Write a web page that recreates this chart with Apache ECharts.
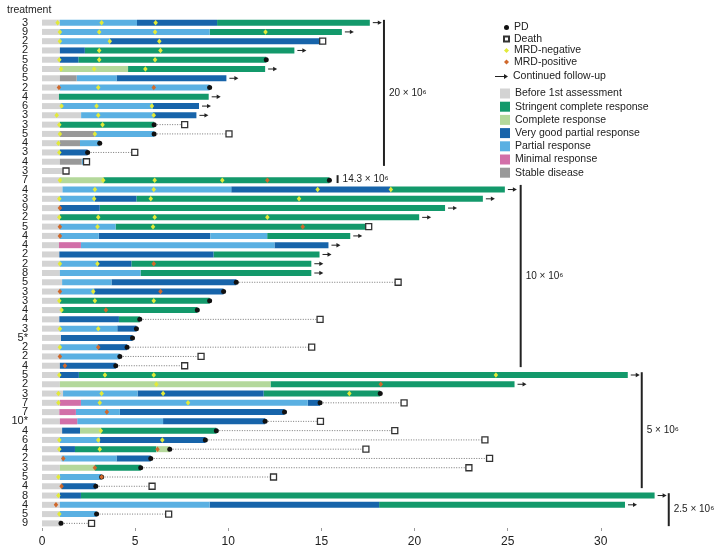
<!DOCTYPE html>
<html><head><meta charset="utf-8">
<script src="https://cdn.jsdelivr.net/npm/echarts@6/dist/echarts.min.js"></script>
<style>html,body{margin:0;padding:0;background:#fff}#c{width:715px;height:550px}</style>
</head><body><div id="c"></div>
<script>
// ---- data ----
const rowLabels = ['3','9','2','2','5','6','5','2','4','6','3','3','5','4','3','4','3','7','4','3','9','2','5','4','4','2','2','8','5','3','3','4','4','3','5*','2','2','4','5','2','3','7','7','10*','4','6','4','2','3','5','4','8','4','5','9'];

const statusCodes = ['B','S','C','V','P','M','D'];
const statusNames = ['Before 1st assessment','Stringent complete response','Complete response','Very good partial response','Partial response','Minimal response','Stable disease'];
const statusColors = ['#d3d3d3','#13996b','#b4d89b','#1764aa','#5ab0e2','#d26fa8','#999999'];

// each row: [status, end time]; each segment starts where the previous ended (first at 0)
const rowSegments = [
 [['B',0.96],['P',5.1],['V',9.4],['S',17.6]],
 [['B',0.96],['P',9.0],['S',16.1]],
 [['B',0.96],['P',3.64],['V',15.07]],
 [['B',0.96],['V',2.3],['S',13.55]],
 [['B',0.96],['V',1.95],['S',12.04]],
 [['B',0.96],['C',4.62],['S',11.98]],
 [['B',0.96],['D',1.86],['P',4.0],['V',9.9]],
 [['B',0.96],['P',9.0]],
 [['B',0.91],['S',8.95]],
 [['B',1.0],['P',5.96],['V',8.43]],
 [['B',2.1],['P',5.96],['V',8.29]],
 [['B',0.96],['S',6.02]],
 [['B',0.96],['D',2.84],['P',6.02]],
 [['B',0.96],['D',2.04],['P',3.1]],
 [['B',0.96],['V',2.45]],
 [['B',0.96],['D',2.13],['P',2.4]],
 [['B',1.25]],
 [['B',0.96],['C',3.29],['S',15.43]],
 [['B',1.1],['P',10.16],['V',18.7],['S',24.85]],
 [['B',0.96],['P',2.84],['V',5.07],['S',23.67]],
 [['B',0.96],['V',3.1],['S',21.64]],
 [['B',0.96],['S',20.25]],
 [['B',0.96],['P',3.95],['S',17.54]],
 [['B',0.96],['P',3.05],['V',9.04],['P',12.09],['S',16.55]],
 [['B',0.91],['M',2.09],['P',12.48],['V',15.38]],
 [['B',0.93],['V',9.21],['S',14.9]],
 [['B',0.96],['P',2.98],['V',4.8],['S',14.46]],
 [['B',0.96],['P',5.29],['S',14.46]],
 [['B',1.08],['P',3.73],['V',10.43]],
 [['B',0.96],['P',2.8],['V',9.75]],
 [['B',0.96],['S',9.0]],
 [['B',1.05],['S',8.34]],
 [['B',0.93],['V',4.13],['S',5.25]],
 [['B',0.96],['P',4.04],['V',5.07]],
 [['B',1.02],['V',4.86]],
 [['B',0.96],['P',2.98],['V',4.57]],
 [['B',0.96],['P',4.18]],
 [['B',0.96],['V',3.96]],
 [['B',0.96],['V',1.98],['S',31.45]],
 [['B',0.96],['C',12.27],['S',25.37]],
 [['B',1.13],['P',5.13],['V',11.9],['S',18.16]],
 [['B',0.96],['M',2.09],['P',14.27],['V',14.93]],
 [['B',0.93],['M',1.82],['P',4.18],['V',13.02]],
 [['B',0.96],['M',1.89],['P',6.5],['V',11.98]],
 [['B',1.08],['V',2.04],['C',3.16],['S',9.36]],
 [['B',0.96],['P',3.1],['V',8.77]],
 [['B',0.96],['V',1.77],['S',6.14],['C',6.86]],
 [['B',1.05],['P',4.0],['V',5.84]],
 [['B',0.96],['C',2.84],['S',5.3]],
 [['B',0.96],['P',3.2]],
 [['B',1.05],['V',2.89]],
 [['B',0.96],['V',2.09],['S',32.89]],
 [['B',0.96],['P',9.0],['V',18.1],['S',31.3]],
 [['B',0.96],['P',2.93]],
 [['B',1.02]]
];

const pdTimes = [null,null,null,null,12.04,null,null,9.0,null,null,null,6.02,6.02,3.1,2.45,null,null,15.43,
 null,null,null,null,null,null,null,null,null,null,10.43,9.75,9.0,8.34,5.25,5.07,4.86,4.57,4.18,3.96,
 null,null,18.16,14.93,13.02,11.98,9.36,8.77,6.86,5.84,5.3,3.2,2.89,null,null,2.93,1.02];

const deathTimes = [null,null,15.07,null,null,null,null,null,null,null,null,7.66,10.04,null,4.98,2.39,1.29,null,
 null,null,null,null,17.54,null,null,null,null,null,19.12,null,null,null,14.93,null,null,14.48,8.54,7.66,
 null,null,null,19.44,null,14.95,18.94,23.78,17.39,24.03,22.92,12.43,5.91,null,null,6.8,2.66];

const ongoingRows = [0,1,3,5,6,8,9,10,18,19,20,21,23,24,25,26,27,38,39,51,52];

const mrdNegative = [[0.84,3.2,6.1],[0.96,3.07,6.07,12.0],[0.96,3.64,6.3],[3.07,6.36],[0.93,3.07,6.07],[1.02,2.8,5.55],[],[3.02],[],[1.05,2.93,5.9],[0.79,3.02,6.0],[0.93,3.25],[0.96,2.84],[0.88],[0.93],[],[],
 [0.96,3.29,6.05,9.68],[2.84,6.0,14.8,18.73],[0.93,2.8,5.84,13.8],[],[0.93,3.02,6.05,12.1],[2.98,5.96],[],[],[],[0.96,2.98],[],[],[2.75],[0.93,2.84,6.0],[1.05],[],[0.96,3.02],[],[0.96],[],[],
 [0.93,3.38,6.0,24.37],[6.14],[0.88,3.2,6.5,16.5],[0.88,3.1,7.84],[],[],[3.16],[0.93,3.02,6.46],[0.93,3.1],[],[],[0.88],[],[0.88],[],[0.93],[]];

const mrdPositive = [[],[],[],[],[],[],[],[0.91,6.0],[],[],[],[],[],[],[],[],[],
 [12.1],[],[],[0.96],[],[0.96,14.0],[0.96],[],[],[6.0],[],[],[0.96,6.36],[],[3.43],[],[],[],[3.02],[0.96],[1.23],
 [],[18.19],[],[],[3.48],[],[],[],[6.2],[1.14],[2.84],[3.2],[1.05],[],[0.75],[],[]];

// dose groups: label, x position, from row, to row (fractional rows)
const bracketLabels = ['20 × 10⁶','14.3 × 10⁶','10 × 10⁶','5 × 10⁶','2.5 × 10⁶'];
const bracketX = [18.36, 15.87, 25.7, 32.2, 33.65];
const bracketFrom = [-0.3, 16.45, 17.5, 37.7, 50.75];
const bracketTo = [15.45, 17.3, 37.15, 50.2, 54.3];

const xTicks = [0, 5, 10, 15, 20, 25, 30];

// ---- build ----
const FONT = 'Liberation Sans, Arial, Helvetica, sans-serif';
const segData = statusCodes.map(() => []);
rowSegments.forEach((segs, r) => {
  let start = 0;
  segs.forEach(([code, end]) => {
    segData[statusCodes.indexOf(code)].push([start, end, r]);
    start = end;
  });
});
const rowEnd = rowSegments.map(s => s[s.length - 1][1]);
const pdData = [], deathData = [], dotData = [], negData = [], posData = [];
rowLabels.forEach((l, r) => {
  if (pdTimes[r] != null) pdData.push([pdTimes[r], r]);
  if (deathTimes[r] != null) deathData.push([deathTimes[r], r]);
  if (pdTimes[r] != null && deathTimes[r] != null && deathTimes[r] > pdTimes[r] + 0.3) dotData.push([pdTimes[r], deathTimes[r], r]);
  mrdNegative[r].forEach(t => negData.push([t, r]));
  mrdPositive[r].forEach(t => posData.push([t, r]));
});
const arrowData = ongoingRows.map(r => [rowEnd[r], r]);

const BAR_H = 6;
function segRender(params, api) {
  const s = api.coord([api.value(0), api.value(2)]);
  const e = api.coord([api.value(1), api.value(2)]);
  return { type: 'rect', shape: { x: s[0], y: s[1] - BAR_H / 2, width: e[0] - s[0], height: BAR_H },
    style: { fill: api.visual('color') } };
}
const statusSeries = statusNames.map((name, i) => ({
  name, type: 'custom', renderItem: segRender, data: segData[i], z: 2,
  encode: { x: [0, 1], y: 2 }, itemStyle: { color: statusColors[i] }
}));

const LEG_TXT = { fontSize: 10.5, color: '#222', fontFamily: FONT };
const option = {
  animation: false,
  backgroundColor: '#fff',
  textStyle: { fontFamily: FONT },
  title: { text: 'treatment', left: 2, top: 0, textStyle: { fontSize: 10.5, fontWeight: 'normal', color: '#222', fontFamily: FONT } },
  grid: { left: 42, top: 18, width: 637, height: 510, outerBoundsMode: 'none' },
  xAxis: {
    type: 'value', min: 0, max: 34.2, interval: 5, offset: 3,
    splitLine: { show: false },
    axisLine: { lineStyle: { color: '#999', width: 2 } },
    axisTick: { show: true, inside: true, length: 3, lineStyle: { color: '#999' }, customValues: xTicks },
    axisLabel: { color: '#222', fontSize: 12, margin: 5, customValues: xTicks }
  },
  yAxis: {
    type: 'category', inverse: true, data: rowLabels,
    axisLine: { show: false }, axisTick: { show: false },
    axisLabel: { interval: 0, color: '#222', fontSize: 11, margin: 14 }
  },
  legend: [
    { data: ['PD', 'Death', 'MRD-negative', 'MRD-positive'], orient: 'vertical', left: 498, top: 17, itemWidth: 5, itemHeight: 5, itemGap: 0.5,
      selectedMode: false, textStyle: LEG_TXT },
    { data: [{ name: 'Continued follow-up', icon: 'path://M0,4.5 L9,4.5 L9,2.5 L13,5 L9,7.5 L9,5.5 L0,5.5 Z' }], orient: 'vertical', left: 490, top: 66, itemWidth: 13, itemHeight: 6,
      selectedMode: false, textStyle: LEG_TXT },
    { data: statusNames, orient: 'vertical', left: 495, top: 83, itemWidth: 10, itemHeight: 10, itemGap: 2.2, icon: 'rect',
      selectedMode: false, textStyle: LEG_TXT }
  ],
  series: [
    ...statusSeries,
    { name: 'follow', type: 'custom', z: 1, data: dotData, encode: { x: [0, 1], y: 2 },
      renderItem(params, api) {
        const a = api.coord([api.value(0), api.value(2)]);
        const b = api.coord([api.value(1), api.value(2)]);
        return { type: 'line', shape: { x1: a[0] + 3, y1: a[1], x2: b[0] - 3, y2: b[1] },
          style: { stroke: '#777', lineWidth: 1, lineDash: [1, 1.5] } };
      } },
    { name: 'Continued follow-up', type: 'custom', z: 3, data: arrowData, encode: { x: 0, y: 1 }, itemStyle: { color: '#222' },
      renderItem(params, api) {
        const p = api.coord([api.value(0), api.value(1)]);
        const x0 = p[0] + 3, x1 = p[0] + 12, y = p[1];
        return { type: 'group', children: [
          { type: 'line', shape: { x1: x0, y1: y, x2: x1 - 3, y2: y }, style: { stroke: '#222', lineWidth: 1 } },
          { type: 'polygon', shape: { points: [[x1 - 4, y - 2.2], [x1, y], [x1 - 4, y + 2.2]] }, style: { fill: '#222' } }
        ] };
      } },
    { name: 'PD', type: 'scatter', z: 5, data: pdData, symbol: 'circle', symbolSize: 5, itemStyle: { color: '#111', opacity: 1 } },
    { name: 'Death', type: 'scatter', z: 5, data: deathData, symbol: 'rect', symbolSize: 6,
      itemStyle: { color: '#fff', borderColor: '#333', borderWidth: 1.3, opacity: 1 } },
    { name: 'MRD-negative', type: 'scatter', z: 6, data: negData, symbol: 'diamond', symbolSize: [4.5, 5.5], itemStyle: { color: '#e2ea3a', opacity: 1 } },
    { name: 'MRD-positive', type: 'scatter', z: 6, data: posData, symbol: 'diamond', symbolSize: [4.5, 5.5], itemStyle: { color: '#d0692c', opacity: 1 } },
    { name: 'brackets', type: 'custom', z: 2, data: bracketX.map(x => [x, 0]), encode: { x: 0, y: 1 },
      renderItem(params, api) {
        const i = params.dataIndex;
        const p0 = api.coord([bracketX[i], 0]);
        const p1 = api.coord([bracketX[i], 1]);
        const band = p1[1] - p0[1];
        const y0 = p0[1] + bracketFrom[i] * band, y1 = p0[1] + bracketTo[i] * band;
        return { type: 'group', children: [
          { type: 'line', shape: { x1: p0[0], y1: y0, x2: p0[0], y2: y1 }, style: { stroke: '#222', lineWidth: 2 } },
          { type: 'text', style: { text: bracketLabels[i], x: p0[0] + 5, y: (y0 + y1) / 2, fill: '#222', fontSize: 10, fontFamily: FONT, align: 'left', verticalAlign: 'middle' } }
        ] };
      } }
  ]
};
const chart = echarts.init(document.getElementById('c'), null, { renderer: 'canvas' });
chart.setOption(option);
</script>
</body></html>
